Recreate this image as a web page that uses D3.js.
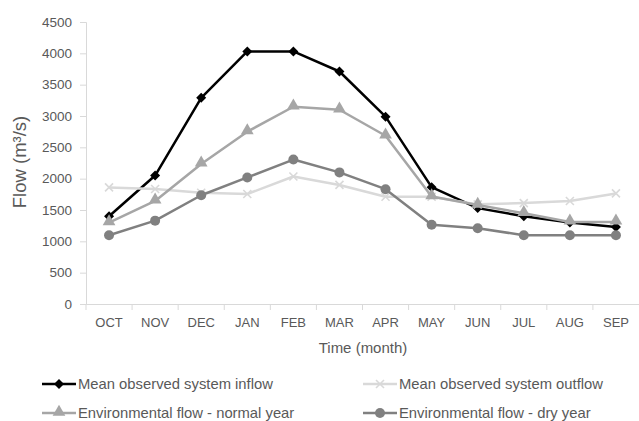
<!DOCTYPE html>
<html>
<head>
<meta charset="utf-8">
<script src="https://cdn.jsdelivr.net/npm/d3@7"></script>
<style>
  body { margin: 0; background: #fff; }
  text { font-family: "Liberation Sans", Arial, sans-serif; fill: #595959; }
</style>
</head>
<body>
<svg id="chart" width="639" height="421"></svg>
<script>
var months = ["OCT", "NOV", "DEC", "JAN", "FEB", "MAR", "APR", "MAY", "JUN", "JUL", "AUG", "SEP"];
var inflow = [1400, 2050, 3290, 4030, 4030, 3710, 2990, 1865, 1530, 1400, 1300, 1230];
var outflow = [1860, 1835, 1775, 1755, 2035, 1900, 1712, 1712, 1590, 1610, 1643, 1765];
var normalYear = [1300, 1645, 2235, 2750, 3148, 3100, 2685, 1715, 1580, 1448, 1310, 1310];
var dryYear = [1098, 1330, 1735, 2020, 2305, 2100, 1832, 1265, 1210, 1097, 1097, 1097];
var yTicks = [0, 500, 1000, 1500, 2000, 2500, 3000, 3500, 4000, 4500];

var series = [
	{ name: "Mean observed system inflow", values: inflow, color: "#000000", marker: "diamond" },
	{ name: "Mean observed system outflow", values: outflow, color: "#d9d9d9", marker: "cross" },
	{ name: "Environmental flow - normal year", values: normalYear, color: "#a6a6a6", marker: "triangle" },
	{ name: "Environmental flow - dry year", values: dryYear, color: "#808080", marker: "circle" }
];

var margin = { top: 22, left: 86, right: 0, bottom: 117 },
	width = 639 - margin.left - margin.right,
	height = 421 - margin.top - margin.bottom;

var svg = d3.select("#chart");
var g = svg.append("g").attr("transform", "translate(" + margin.left + "," + margin.top + ")");

var x = d3.scaleBand().domain(months).range([0, 553]);
var y = d3.scaleLinear().domain([0, 4500]).range([height, 0]);

// y axis
var yAxis = g.append("g").call(d3.axisLeft(y).tickValues(yTicks).tickFormat(d3.format("d")).tickSize(6).tickPadding(8));
yAxis.select(".domain").attr("stroke", "#d9d9d9");
yAxis.selectAll(".tick line").attr("stroke", "#d9d9d9");
yAxis.selectAll(".tick text").style("font-size", "13.5px").attr("fill", "#595959");

// x axis, ticks between categories
var xAxis = g.append("g").attr("transform", "translate(0," + height + ")")
	.call(d3.axisBottom(x).tickSize(0).tickPadding(14));
xAxis.select(".domain").attr("stroke", "#d9d9d9");
xAxis.selectAll(".tick text").style("font-size", "13px").attr("fill", "#595959");
g.append("g").selectAll("line").data(months).join("line")
	.attr("x1", d => x(d)).attr("x2", d => x(d))
	.attr("y1", height).attr("y2", height + 6)
	.attr("stroke", "#d9d9d9");

// axis titles
svg.append("text")
	.attr("transform", "translate(26,162) rotate(-90)")
	.attr("text-anchor", "middle")
	.style("font-size", "18.5px")
	.text("Flow (m³/s)");
svg.append("text")
	.attr("x", 363).attr("y", 353)
	.attr("text-anchor", "middle")
	.style("font-size", "15px")
	.text("Time (month)");

var cx = d => x(d) + x.bandwidth() / 2;

function drawMarker(sel, type, color) {
	if (type == "diamond") {
		sel.append("path").attr("d", "M0,-5L5,0L0,5L-5,0Z").attr("fill", color);
	} else if (type == "triangle") {
		sel.append("path").attr("d", d3.symbol().type(d3.symbolTriangle).size(70)).attr("fill", color)
			.attr("transform", "translate(0,-1)");
	} else if (type == "circle") {
		sel.append("circle").attr("r", 5).attr("fill", color);
	} else {
		sel.append("path").attr("d", "M-4,-4L4,4M-4,4L4,-4").attr("stroke", color).attr("stroke-width", 1.6).attr("fill", "none");
	}
}

var line = d3.line().x((d, i) => cx(months[i])).y(d => y(d));

series.forEach(function(s) {
	g.append("path").datum(s.values)
		.attr("fill", "none")
		.attr("stroke", s.color)
		.attr("stroke-width", 2.5)
		.attr("stroke-linejoin", "round")
		.attr("d", line);
	g.append("g").selectAll("g").data(s.values).join("g")
		.attr("transform", (d, i) => "translate(" + cx(months[i]) + "," + y(d) + ")")
		.each(function() { drawMarker(d3.select(this), s.marker, s.color); });
});

// legend
var legPos = [[42, 384], [363, 384], [42, 413], [363, 413]];
series.forEach(function(s, i) {
	var lg = svg.append("g").attr("transform", "translate(" + legPos[i][0] + "," + legPos[i][1] + ")");
	lg.append("line").attr("x1", 0).attr("x2", 34).attr("y1", 0).attr("y2", 0)
		.attr("stroke", s.color).attr("stroke-width", 2.5);
	var m = lg.append("g").attr("transform", "translate(17,0)");
	drawMarker(m, s.marker, s.color);
	lg.append("text").attr("x", 36).attr("y", 5).style("font-size", "14.8px").text(s.name);
});
</script>
</body>
</html>
